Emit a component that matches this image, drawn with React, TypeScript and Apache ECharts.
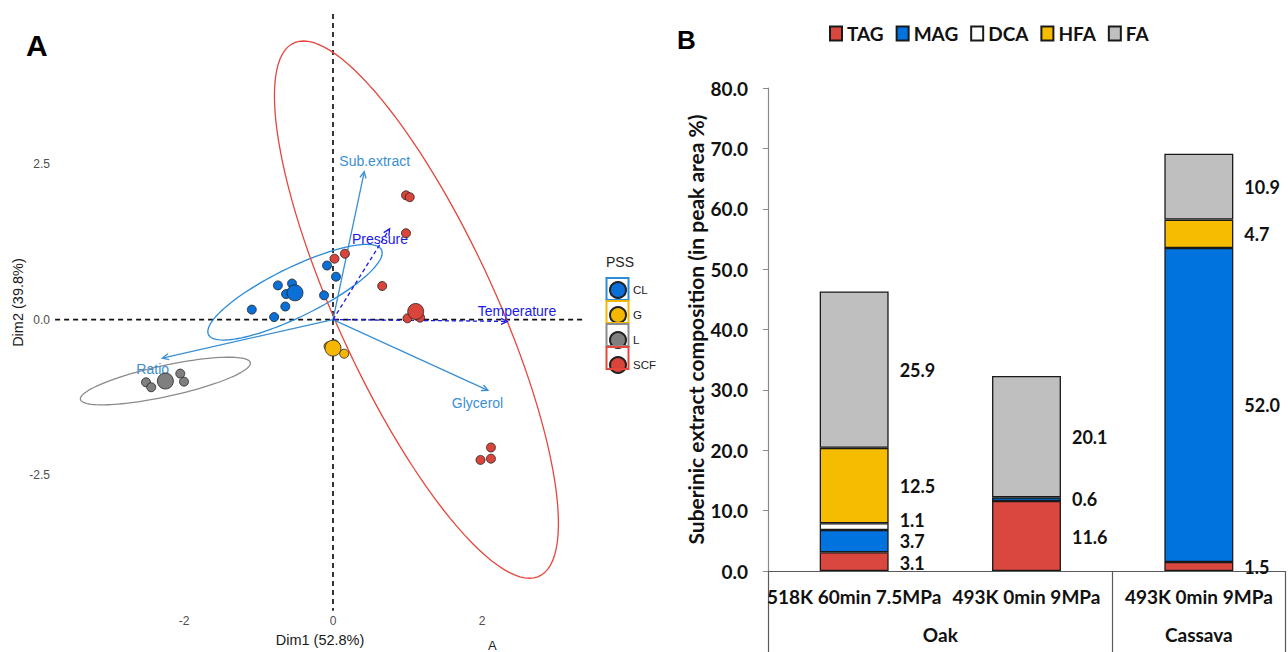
import React, { useEffect, useRef } from "react";
import * as echarts from "echarts";

// ---------------- Panel A : PCA biplot ----------------
const GROUPS = ["CL", "G", "L", "SCF"];
const GROUP_COLORS = ["#0a6fd6", "#f5b700", "#7f7f7f", "#d9443b"];
const ELLIPSE_COLORS = ["#2b8bd8", "#f5b700", "#8c8c8c", "#e5473d"];

const CL_POINTS = [[-1.09, 0.16], [-0.79, 0.04], [-0.64, 0.21], [-0.74, 0.55], [-0.55, 0.58], [-0.63, 0.41], [-0.12, 0.39], [-0.08, 0.87], [0.04, 0.69]];
const G_POINTS = [[-0.06, -0.43], [0.02, -0.40], [0.15, -0.55], [-0.02, -0.47]];
const L_POINTS = [[-2.51, -1.01], [-2.44, -1.09], [-2.05, -0.87], [-2.0, -1.0]];
const SCF_POINTS = [[0.02, 0.98], [0.16, 1.06], [0.98, 2.0], [1.03, 1.97], [0.98, 1.39], [0.66, 0.54], [1.0, 0.02], [1.17, 0.03], [2.12, -2.06], [1.98, -2.26], [2.12, -2.24]];
const GROUP_POINTS = [CL_POINTS, G_POINTS, L_POINTS, SCF_POINTS];
const CENTROIDS = [[-0.51, 0.43], [0.0, -0.46], [-2.25, -0.99], [1.11, 0.13]];

// confidence ellipses: group index, centre, two conjugate half-diameters (data units)
const ELLIPSE_GROUP = [0, 2, 3];
const ELLIPSE_CENTER = [[-0.51, 0.44], [-2.25, -0.99], [1.12, 0.16]];
const ELLIPSE_U = [[1.161, 0.683], [1.14, 0.296], [-1.517, 4.325]];
const ELLIPSE_V = [[0.146, -0.355], [0.044, -0.244], [1.154, 0]];

const VAR_NAMES = ["Sub.extract", "Glycerol", "Ratio", "Pressure", "Temperature"];
const VAR_X = [0.42, 2.08, -2.29, 0.76, 2.34];
const VAR_Y = [2.38, -1.14, -0.62, 1.46, -0.03];
const VAR_SUPPLEMENTARY = [0, 0, 0, 1, 1];
const VAR_LABEL_X = [0.56, 1.94, -2.42, 0.63, 2.47];
const VAR_LABEL_Y = [2.56, -1.35, -0.79, 1.29, 0.13];

const A_X_RANGE = [-4, 4];
const A_X_STEP = 2;
const A_Y_RANGE = [-5, 5];
const A_Y_STEP = 2.5;
const A_PANEL_X = [-3.73, 3.37];
const A_PANEL_Y = [-4.69, 4.92];

// ---------------- Panel B : stacked bars ----------------
const CATEGORIES = ["518K 60min 7.5MPa", "493K 0min 9MPa", "493K 0min 9MPa"];
const GROUP_NAMES = ["Oak", "Cassava"];
const GROUP_SPANS = [2, 1];
const COMPONENTS = ["TAG", "MAG", "DCA", "HFA", "FA"];
const COMPONENT_COLORS = ["#d9473f", "#0073de", "#ffffff", "#f6bc00", "#bfbfbf"];
const TAG = [3.1, 11.6, 1.5];
const MAG = [3.7, 0.6, 52.0];
const DCA = [1.1, null, null];
const HFA = [12.5, null, 4.7];
const FA = [25.9, 20.1, 10.9];
const COMPONENT_VALUES = [TAG, MAG, DCA, HFA, FA];
const B_Y_MAX = 80;
const B_Y_STEP = 10;

const SANS = '"Liberation Sans", Arial, sans-serif';
const CAL = 'Lato, "Open Sans", sans-serif';

export default function App() {
  const ref = useRef<HTMLDivElement>(null);
  useEffect(() => {
    if (!ref.current) return;
    const chart = echarts.init(ref.current, null, { renderer: "svg" });

    const groupCenters = GROUP_SPANS.map((s, i) => {
      const start = GROUP_SPANS.slice(0, i).reduce((a, b) => a + b, 0);
      return start + s / 2;
    });

    const scatterSeries = GROUPS.map((g, gi) => ({
      type: "scatter",
      name: g,
      xAxisIndex: 0,
      yAxisIndex: 0,
      z: 5,
      symbol: "circle",
      symbolSize: 9,
      itemStyle: { color: GROUP_COLORS[gi], borderColor: "#222", borderWidth: 0.8, opacity: 1 },
      data: [
        ...GROUP_POINTS[gi].map((p) => [p[0], p[1]]),
        { value: CENTROIDS[gi], symbolSize: 16 },
      ],
    }));

    const ellipseSeries = {
      type: "custom",
      name: "ellipses",
      coordinateSystem: "cartesian2d",
      xAxisIndex: 0,
      yAxisIndex: 0,
      silent: true,
      z: 3,
      encode: { x: 0, y: 1 },
      data: ELLIPSE_GROUP.map((g, i) => [
        ELLIPSE_CENTER[i][0], ELLIPSE_CENTER[i][1],
        ELLIPSE_U[i][0], ELLIPSE_U[i][1], ELLIPSE_V[i][0], ELLIPSE_V[i][1], g,
      ]),
      renderItem: (params: any, api: any) => {
        const cx = api.value(0), cy = api.value(1);
        const ux = api.value(2), uy = api.value(3), vx = api.value(4), vy = api.value(5);
        const g = api.value(6);
        const pts: number[][] = [];
        for (let k = 0; k <= 120; k++) {
          const t = (k / 120) * Math.PI * 2;
          pts.push(api.coord([cx + ux * Math.cos(t) + vx * Math.sin(t), cy + uy * Math.cos(t) + vy * Math.sin(t)]));
        }
        return {
          type: "polyline",
          shape: { points: pts },
          style: { fill: "none", stroke: ELLIPSE_COLORS[g], lineWidth: 1.3 },
        };
      },
    };

    const arrowSeries = {
      type: "custom",
      name: "variables",
      coordinateSystem: "cartesian2d",
      xAxisIndex: 0,
      yAxisIndex: 0,
      silent: true,
      z: 4,
      encode: { x: 0, y: 1 },
      data: VAR_NAMES.map((n, i) => [VAR_X[i], VAR_Y[i], VAR_LABEL_X[i], VAR_LABEL_Y[i], VAR_SUPPLEMENTARY[i]]),
      renderItem: (params: any, api: any) => {
        const p0 = api.coord([0, 0]);
        const p1 = api.coord([api.value(0), api.value(1)]);
        const lp = api.coord([api.value(2), api.value(3)]);
        const sup = api.value(4) === 1;
        const color = sup ? "#1a1ae8" : "#3a8fd3";
        const ang = Math.atan2(p1[1] - p0[1], p1[0] - p0[0]);
        const h = 7, sp = Math.PI / 7;
        const a1 = [p1[0] - h * Math.cos(ang - sp), p1[1] - h * Math.sin(ang - sp)];
        const a2 = [p1[0] - h * Math.cos(ang + sp), p1[1] - h * Math.sin(ang + sp)];
        return {
          type: "group",
          children: [
            {
              type: "line",
              shape: { x1: p0[0], y1: p0[1], x2: p1[0], y2: p1[1] },
              style: { stroke: color, lineWidth: 1.3, lineDash: sup ? [4, 3] : null },
            },
            {
              type: "polyline",
              shape: { points: [a1, p1, a2] },
              style: { stroke: color, fill: "none", lineWidth: 1.3 },
            },
            {
              type: "text",
              x: lp[0],
              y: lp[1],
              style: {
                text: VAR_NAMES[params.dataIndex],
                fill: color,
                fontSize: 14,
                fontFamily: SANS,
                align: "center",
                verticalAlign: "middle",
              },
            },
          ],
        };
      },
    };

    const refLineStyle = { color: "#111", width: 1.7, type: [5, 4] as any };
    const refSeries = [
      {
        type: "line",
        name: "h0",
        xAxisIndex: 0,
        yAxisIndex: 0,
        silent: true,
        z: 1,
        showSymbol: false,
        symbol: "none",
        lineStyle: refLineStyle,
        data: [[A_PANEL_X[0], 0], [A_PANEL_X[1], 0]],
      },
      {
        type: "line",
        name: "v0",
        xAxisIndex: 0,
        yAxisIndex: 0,
        silent: true,
        z: 1,
        showSymbol: false,
        symbol: "none",
        lineStyle: refLineStyle,
        data: [[0, A_PANEL_Y[1]], [0, A_PANEL_Y[0]]],
      },
    ];

    const labelOffsets: Record<string, number[]> = { DCA: [0, -7], MAG: [0, 0], TAG: [0, 1] };
    const barSeries = COMPONENTS.map((c, ci) => ({
      type: "bar",
      name: c,
      xAxisIndex: 1,
      yAxisIndex: 1,
      stack: "total",
      barWidth: "40%",
      z: 2,
      itemStyle: { color: COMPONENT_COLORS[ci], borderColor: "#1a1a1a", borderWidth: 1.3 },
      label: {
        show: true,
        position: "right",
        distance: 11,
        offset: labelOffsets[c] || [0, 0],
        formatter: (p: any) => (p.value == null ? "" : Number(p.value).toFixed(1)),
        fontSize: 18,
        lineHeight: 18,
        fontWeight: "bold",
        fontFamily: CAL,
        color: "#111",
      },
      data: COMPONENT_VALUES[ci].map((v) => (v == null ? "-" : v)),
    }));

    const option: any = {
      animation: false,
      backgroundColor: "#ffffff",
      textStyle: { fontFamily: SANS },
      grid: [
        { left: 35, top: 9, width: 596, height: 622, containLabel: false },
        { left: 768, top: 88, width: 522, height: 483, containLabel: false },
      ],
      legend: [
        {
          data: GROUPS,
          orient: "vertical",
          left: 609,
          top: 281,
          itemWidth: 16,
          itemHeight: 16,
          itemGap: 7,
          icon: "circle",
          padding: 0,
          selectedMode: false,
          textStyle: { fontSize: 11.5, fontFamily: SANS, color: "#222", padding: [0, 0, 0, 2] },
        },
        {
          data: COMPONENTS,
          left: 829,
          top: 24,
          itemWidth: 12,
          itemHeight: 14,
          itemGap: 12,
          icon: "rect",
          padding: 0,
          selectedMode: false,
          textStyle: { fontSize: 19, fontWeight: "bold", fontFamily: CAL, color: "#111" },
        },
      ],
      xAxis: [
        {
          type: "value",
          gridIndex: 0,
          min: A_X_RANGE[0],
          max: A_X_RANGE[1],
          interval: A_X_STEP,
          offset: -17,
          axisLine: { show: false },
          axisTick: { show: false },
          splitLine: { show: false },
          axisLabel: {
            margin: 2,
            fontSize: 12,
            color: "#4d4d4d",
            fontFamily: SANS,
            formatter: (v: number) => (v <= A_X_RANGE[0] || v >= A_X_RANGE[1] ? "" : String(v)),
          },
          name: "Dim1 (52.8%)",
          nameLocation: "middle",
          nameGap: 17,
          nameTextStyle: { fontSize: 14.5, color: "#1a1a1a", fontFamily: SANS, padding: [0, 26, 0, 0] },
        },
        {
          type: "category",
          gridIndex: 1,
          data: CATEGORIES.map((_, i) => String(i)),
          axisLine: { lineStyle: { color: "#5a5a5a", width: 1.2 } },
          axisTick: {
            show: true,
            length: 81,
            interval: (i: number) => i === 0 || i === 2,
            lineStyle: { color: "#5a5a5a", width: 1.2 },
          },
          axisLabel: {
            interval: 0,
            margin: 16,
            fontSize: 19,
            fontWeight: "bold",
            fontFamily: CAL,
            color: "#111",
            formatter: (_v: string, i: number) => CATEGORIES[i],
          },
        },
        {
          type: "value",
          gridIndex: 1,
          position: "bottom",
          min: 0,
          max: CATEGORIES.length,
          interval: 0.5,
          axisLine: { show: false },
          axisTick: { show: false },
          splitLine: { show: false },
          axisLabel: {
            margin: 54,
            fontSize: 19,
            fontWeight: "bold",
            fontFamily: CAL,
            color: "#111",
            showMinLabel: true,
            showMaxLabel: true,
            formatter: (v: number) => {
              const k = groupCenters.findIndex((c) => Math.abs(c - v) < 1e-6);
              return k >= 0 ? GROUP_NAMES[k] : "";
            },
          },
        },
      ],
      yAxis: [
        {
          type: "value",
          gridIndex: 0,
          min: A_Y_RANGE[0],
          max: A_Y_RANGE[1],
          interval: A_Y_STEP,
          offset: -20,
          axisLine: { show: false },
          axisTick: { show: false },
          splitLine: { show: false },
          axisLabel: {
            margin: 5,
            fontSize: 12,
            color: "#4d4d4d",
            fontFamily: SANS,
            formatter: (v: number) => (v <= A_Y_RANGE[0] || v >= A_Y_RANGE[1] ? "" : v.toFixed(1)),
          },
          name: "Dim2 (39.8%)",
          nameLocation: "middle",
          nameGap: 25,
          nameTextStyle: { fontSize: 14.5, color: "#1a1a1a", fontFamily: SANS, padding: [0, 0, 0, 34] },
        },
        {
          type: "value",
          gridIndex: 1,
          min: 0,
          max: B_Y_MAX,
          interval: B_Y_STEP,
          axisLine: { show: true, lineStyle: { color: "#8a8a8a", width: 1.2 } },
          axisTick: { show: true, length: 5, lineStyle: { color: "#8a8a8a" } },
          splitLine: { show: false },
          axisLabel: {
            margin: 20,
            fontSize: 19,
            fontWeight: "bold",
            fontFamily: CAL,
            color: "#111",
            formatter: (v: number) => v.toFixed(1),
          },
          name: "Suberinic extract composition (in peak area %)",
          nameLocation: "middle",
          nameGap: 62,
          nameTextStyle: { fontSize: 21, fontWeight: "bold", fontFamily: CAL, color: "#111" },
        },
      ],
      graphic: [
        { type: "text", left: 26, top: 30, style: { text: "A", fontSize: 30, fontWeight: "bold", fontFamily: SANS, fill: "#000" } },
        { type: "text", left: 677, top: 27, style: { text: "B", fontSize: 26, fontWeight: "bold", fontFamily: SANS, fill: "#000" } },
        { type: "text", left: 606, top: 255, style: { text: "PSS", fontSize: 14, fontFamily: SANS, fill: "#222" } },
        { type: "text", left: 488, top: 639, style: { text: "A", fontSize: 13, fontFamily: SANS, fill: "#222" } },
        ...GROUPS.map((g, i) => ({
          type: "rect",
          shape: { x: 606.5, y: 278 + 23 * i, width: 22, height: 22 },
          style: { fill: "none", stroke: ELLIPSE_COLORS[i], lineWidth: 2 },
          z: 100,
        })),
      ],
      series: [...refSeries, ellipseSeries, arrowSeries, ...scatterSeries, ...barSeries],
    };

    chart.setOption(option);
    return () => chart.dispose();
  }, []);

  return (
    <div
      ref={ref}
      style={{ position: "fixed", left: 0, top: 0, width: 1288, height: 652, background: "#fff" }}
    />
  );
}
